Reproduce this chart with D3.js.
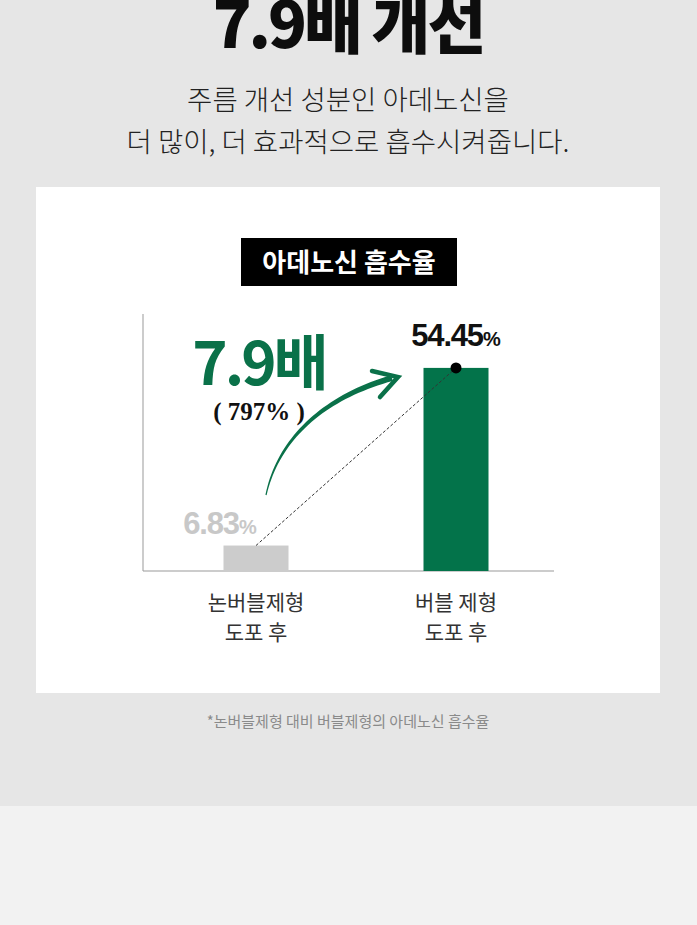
<!DOCTYPE html>
<html><head><meta charset="utf-8">
<script src="https://cdn.jsdelivr.net/npm/d3@7"></script>
<style>
html,body{margin:0;padding:0;background:#f2f2f2;}
svg{display:block;}
</style></head>
<body>
<svg id="c" width="697" height="925"></svg>
<script>
const categoriesLine1 = ["논버블제형", "버블 제형"];
const categoriesLine2 = ["도포 후", "도포 후"];
const values = [6.83, 54.45];
const valueLabels = ["6.83", "54.45"];
const ratioLabel = "7.9배";
const ratioPct = "( 797% )";

const KR = "'Noto Sans CJK KR','Noto Sans',sans-serif";
const svg = d3.select("#c");

svg.append("rect").attr("x",0).attr("y",0).attr("width",697).attr("height",806).attr("fill","#e6e6e6");

svg.append("text").attr("x",348).attr("y",48).attr("text-anchor","middle")
  .style("font-family",KR).style("font-weight",900).style("font-size","64px")
  .style("letter-spacing","-3px").attr("fill","#0d0d0d").text("7.9배 개선");

svg.append("text").attr("x",348).attr("y",110).attr("text-anchor","middle")
  .style("font-family",KR).style("font-size","27.5px").style("font-weight",300).attr("fill","#222").text("주름 개선 성분인 아데노신을");
svg.append("text").attr("x",348).attr("y",152).attr("text-anchor","middle")
  .style("font-family",KR).style("font-size","27.5px").style("font-weight",300).attr("fill","#222").text("더 많이, 더 효과적으로 흡수시켜줍니다.");

// panel
svg.append("rect").attr("x",36).attr("y",187).attr("width",624).attr("height",506).attr("fill","#fff");

// label box
svg.append("rect").attr("x",241).attr("y",238).attr("width",216).attr("height",48).attr("fill","#000");
svg.append("text").attr("x",349).attr("y",272).attr("text-anchor","middle")
  .style("font-family",KR).style("font-weight",700).style("font-size","26px").attr("fill","#fff").text("아데노신 흡수율");

// scales
const x = d3.scaleBand().domain(categoriesLine1).range([88.5,623.5]).paddingInner(0.675).paddingOuter(0.675);
const y = d3.scaleLinear().domain([0, 68.9]).range([571, 314]);

const bw = x.bandwidth();
const cx = d => x(d) + bw/2;

// axes
svg.append("line").attr("x1",143).attr("x2",143).attr("y1",314).attr("y2",571).attr("stroke","#999").attr("stroke-width",1);
svg.append("line").attr("x1",143).attr("x2",554).attr("y1",571).attr("y2",571).attr("stroke","#999").attr("stroke-width",1.2);

const colors = ["#cccccc", "#03734a"];
svg.selectAll("rect.bar").data(values).enter().append("rect").attr("class","bar")
  .attr("x",(d,i)=>x(categoriesLine1[i]))
  .attr("y",d=>y(d)).attr("width",bw).attr("height",d=>y(0)-y(d))
  .attr("fill",(d,i)=>colors[i]);

// dashed connector
const p0 = [cx(categoriesLine1[0]), y(values[0])];
const p1 = [cx(categoriesLine1[1]), y(values[1])];
svg.append("line").attr("x1",p0[0]).attr("y1",p0[1]).attr("x2",p1[0]).attr("y2",p1[1])
  .attr("stroke","#333").attr("stroke-width",1).attr("stroke-dasharray","3,2");
svg.append("circle").attr("cx",p1[0]).attr("cy",p1[1]).attr("r",5.5).attr("fill","#000");

// value labels
const vl = svg.selectAll("text.vl").data(values).enter().append("text").attr("class","vl")
  .attr("x",(d,i)=> i===0 ? cx(categoriesLine1[i]) - 36 : cx(categoriesLine1[i]))
  .attr("y",(d,i)=> i===0 ? 534 : 346)
  .attr("text-anchor","middle")
  .style("font-family","'Liberation Sans',Arial,sans-serif").style("font-weight",700)
  .style("font-size","31px").style("letter-spacing","-1.2px")
  .attr("fill",(d,i)=> i===0 ? "#c8c8c8" : "#111");
vl.append("tspan").text((d,i)=>valueLabels[i]);
vl.append("tspan").style("font-size","20px").style("letter-spacing","0px").text("%");

// ratio text
svg.append("text").attr("x",259).attr("y",385).attr("text-anchor","middle")
  .style("font-family",KR).style("font-weight",700).style("font-size","60px")
  .style("letter-spacing","-3px").attr("fill","#0a7149").text(ratioLabel);
svg.append("text").attr("x",259).attr("y",420).attr("text-anchor","middle")
  .style("font-family","'Liberation Serif','DejaVu Serif',serif").style("font-weight",700)
  .style("font-size","25px").attr("fill","#111").text(ratioPct);

// tapered curved arrow
const A=[266,495], B=[278,440], C=[322,398], D=[392,378];
function bez(t){const u=1-t;return [u*u*u*A[0]+3*u*u*t*B[0]+3*u*t*t*C[0]+t*t*t*D[0], u*u*u*A[1]+3*u*u*t*B[1]+3*u*t*t*C[1]+t*t*t*D[1]];}
const N=40, left=[], right=[];
for(let i=0;i<=N;i++){
  const t=i/N, p=bez(t), q=bez(Math.min(1,t+0.01)), r=bez(Math.max(0,t-0.01));
  let dx=q[0]-r[0], dy=q[1]-r[1]; const L=Math.hypot(dx,dy); dx/=L; dy/=L;
  const w=0.6+2.4*t;
  left.push([p[0]-dy*w,p[1]+dx*w]); right.push([p[0]+dy*w,p[1]-dx*w]);
}
const shape = left.concat(right.reverse());
svg.append("path").attr("d",d3.line()(shape)+"Z").attr("fill","#0a7149");
const head = d3.path();
head.moveTo(372,371); head.lineTo(398,377); head.lineTo(380,397);
svg.append("path").attr("d",head.toString()).attr("fill","none").attr("stroke","#0a7149")
  .attr("stroke-width",4.5).attr("stroke-linecap","round").attr("stroke-linejoin","miter");

// category labels
svg.selectAll("text.c1").data(categoriesLine1).enter().append("text").attr("class","c1")
  .attr("x",d=>cx(d)).attr("y",610).attr("text-anchor","middle")
  .style("font-family",KR).style("font-size","21px").attr("fill","#333").text(d=>d);
svg.selectAll("text.c2").data(categoriesLine2).enter().append("text").attr("class","c2")
  .attr("x",(d,i)=>cx(categoriesLine1[i])).attr("y",640).attr("text-anchor","middle")
  .style("font-family",KR).style("font-size","21px").attr("fill","#333").text(d=>d);

svg.append("text").attr("x",348).attr("y",727).attr("text-anchor","middle")
  .style("font-family",KR).style("font-size","15px").attr("fill","#8a8a8a").text("*논버블제형 대비 버블제형의 아데노신 흡수율");
</script>
</body></html>
